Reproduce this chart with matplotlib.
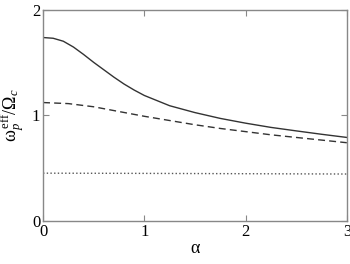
import numpy as np
import matplotlib.pyplot as plt

plt.rcParams['font.family'] = ['Liberation Serif', 'DejaVu Serif']
plt.rcParams['mathtext.fontset'] = 'custom'
plt.rcParams['mathtext.rm'] = 'Liberation Serif'
plt.rcParams['mathtext.it'] = 'Liberation Serif:italic'

# solid curve
a_solid = [0.0, 0.1, 0.2, 0.3, 0.4, 0.5, 0.6, 0.7, 0.8, 0.9, 1.0, 1.25, 1.5, 1.75, 2.0, 2.25, 2.5, 2.75, 3.0]
w_solid = [1.735, 1.728, 1.70, 1.645, 1.575, 1.50, 1.43, 1.36, 1.295, 1.238, 1.187, 1.09, 1.025, 0.97, 0.925, 0.885, 0.852, 0.82, 0.79]

# dashed curve
a_dash = [0.0, 0.25, 0.5, 0.75, 1.0, 1.25, 1.5, 1.75, 2.0, 2.25, 2.5, 2.75, 3.0]
w_dash = [1.12, 1.11, 1.08, 1.035, 0.99, 0.95, 0.91, 0.875, 0.845, 0.815, 0.79, 0.765, 0.74]

# dotted curve
a_dot = [0.0, 1.0, 2.0, 3.0]
w_dot = [0.452, 0.45, 0.447, 0.444]

fig = plt.figure(figsize=(3.5, 2.64), dpi=100)
ax = fig.add_axes([0.123, 0.163, 0.868, 0.801])

ax.plot(a_solid, w_solid, '-', color='#333333', lw=1.0)
ax.plot(a_dash, w_dash, '--', color='#333333', lw=1.0, dashes=(5, 3))
ax.plot(a_dot, w_dot, ':', color='#555555', lw=1.0)

ax.set_xlim([0, 3])
ax.set_ylim([0, 2])
ax.set_xticks([0, 1, 2, 3])
ax.set_yticks([0, 1, 2])
ax.tick_params(direction='in', length=4, width=0.8, color='#888888',
               top=True, right=True, labelsize=12, pad=2)
for s in ax.spines.values():
    s.set_color('#888888')
    s.set_linewidth(1.0)

ax.set_xlabel('α', fontsize=13, labelpad=0)
ax.set_ylabel(r'ω$_{p}^{\,\mathrm{eff}}$/Ω$_{c}$', fontsize=13, labelpad=4)

plt.savefig("out.png", dpi=100)
